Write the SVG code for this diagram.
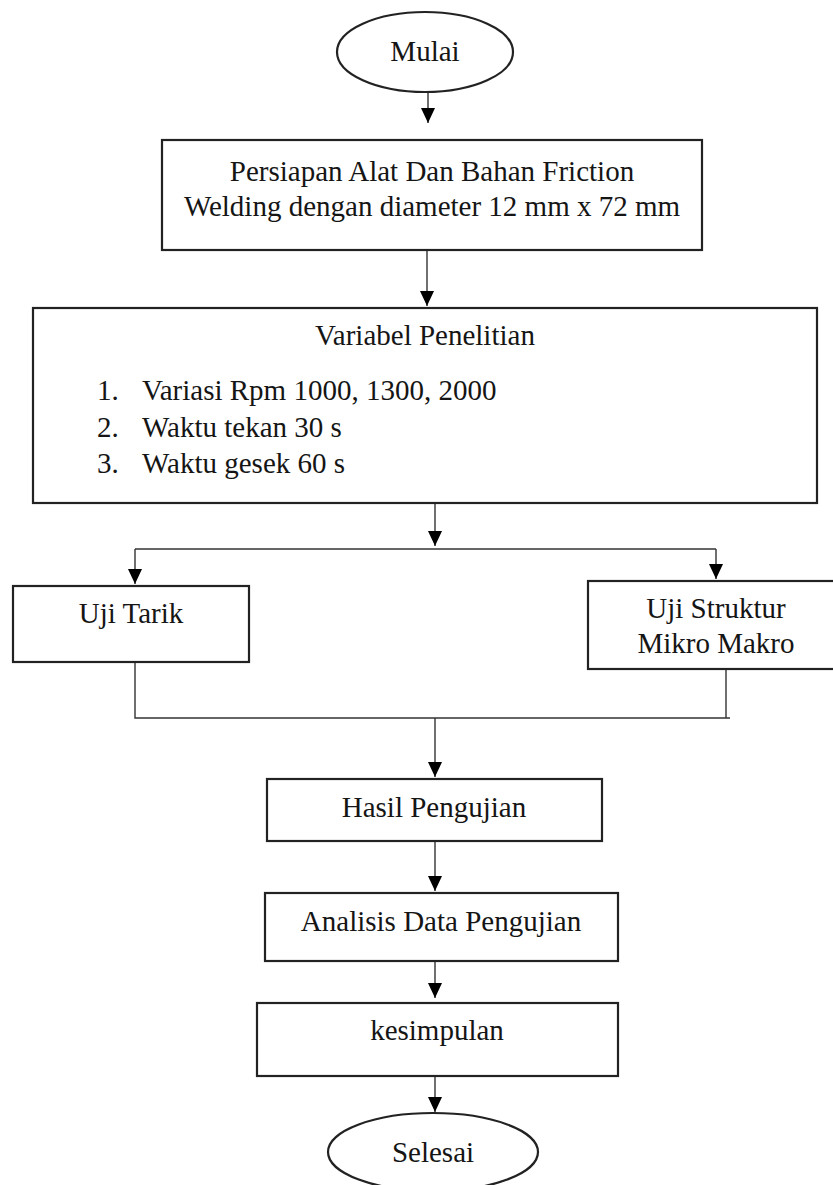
<svg xmlns="http://www.w3.org/2000/svg" width="833" height="1185" viewBox="0 0 833 1185">
<style>
.box{fill:#fff;stroke:#222;stroke-width:2.2}
.t{font-family:"Liberation Serif","Times New Roman",serif;font-size:29px;fill:#151515}
.c{text-anchor:middle}
.conn{fill:none;stroke:#333;stroke-width:1.4}
</style>
<defs>
<marker id="ah" viewBox="0 0 15 14" refX="15" refY="7" markerWidth="15" markerHeight="14" markerUnits="userSpaceOnUse" orient="auto">
<path d="M0,0 L15,7 L0,14 z" fill="#000"/>
</marker>
</defs>
<rect width="833" height="1185" fill="#fff"/>
<g id="connectors">
<path class="conn" d="M428,92 V123" marker-end="url(#ah)"/>
<path class="conn" d="M427,250 V306" marker-end="url(#ah)"/>
<path class="conn" d="M435,503 V546" marker-end="url(#ah)"/>
<path class="conn" d="M135,549 H716"/>
<path class="conn" d="M135,549 V584" marker-end="url(#ah)"/>
<path class="conn" d="M716,549 V579" marker-end="url(#ah)"/>
<path class="conn" d="M135,662 V718 H730"/>
<path class="conn" d="M726,669 V718"/>
<path class="conn" d="M435,718 V777" marker-end="url(#ah)"/>
<path class="conn" d="M435,841 V891" marker-end="url(#ah)"/>
<path class="conn" d="M435,961 V998" marker-end="url(#ah)"/>
<path class="conn" d="M435,1076 V1112" marker-end="url(#ah)"/>
</g>
<g id="mulai">
<ellipse class="box" cx="425" cy="52" rx="88" ry="40"/>
<text class="t c" x="425" y="61">Mulai</text>
</g>
<g id="persiapan">
<rect class="box" x="162" y="140" width="540" height="110"/>
<text class="t c" x="432" y="181">Persiapan Alat Dan Bahan Friction</text>
<text class="t c" x="432" y="216">Welding dengan diameter 12 mm x 72 mm</text>
</g>
<g id="variabel">
<rect class="box" x="33" y="308" width="784" height="195"/>
<text class="t c" x="425" y="345">Variabel Penelitian</text>
<text class="t" x="97" y="400">1.</text><text class="t" x="142" y="400">Variasi Rpm 1000, 1300, 2000</text>
<text class="t" x="97" y="437">2.</text><text class="t" x="142" y="437">Waktu tekan 30 s</text>
<text class="t" x="97" y="473">3.</text><text class="t" x="142" y="473">Waktu gesek 60 s</text>
</g>
<g id="uji-tarik">
<rect class="box" x="13" y="586" width="236" height="76"/>
<text class="t c" x="131" y="623">Uji Tarik</text>
</g>
<g id="uji-struktur">
<rect class="box" x="588" y="581" width="256" height="88"/>
<text class="t c" x="716" y="618">Uji Struktur</text>
<text class="t c" x="716" y="653">Mikro Makro</text>
</g>
<g id="hasil">
<rect class="box" x="267" y="779" width="335" height="62"/>
<text class="t c" x="434" y="817">Hasil Pengujian</text>
</g>
<g id="analisis">
<rect class="box" x="265" y="893" width="353" height="68"/>
<text class="t c" x="441" y="931">Analisis Data Pengujian</text>
</g>
<g id="kesimpulan">
<rect class="box" x="257" y="1003" width="361" height="73"/>
<text class="t c" x="437" y="1040">kesimpulan</text>
</g>
<g id="selesai">
<ellipse class="box" cx="433" cy="1152" rx="105" ry="39"/>
<text class="t c" x="433" y="1162">Selesai</text>
</g>
</svg>
